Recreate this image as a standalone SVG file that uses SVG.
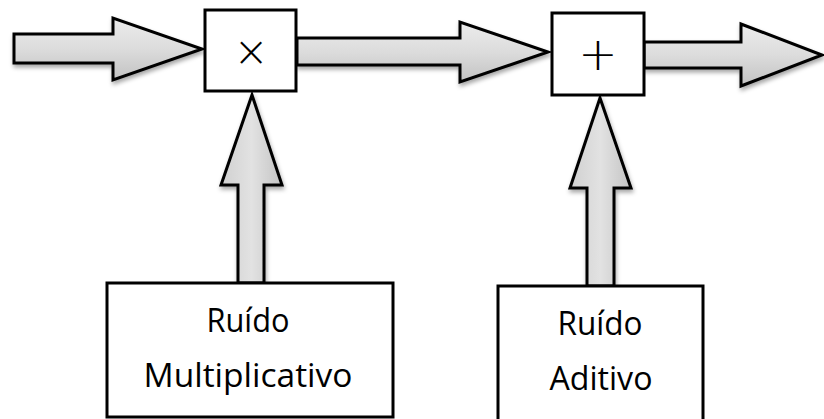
<svg xmlns="http://www.w3.org/2000/svg" width="824" height="419" viewBox="0 0 824 419">
<style>
.box{fill:#fff;stroke:#000;stroke-width:3}
.arr{stroke:#000;stroke-width:3;stroke-linejoin:miter;filter:url(#sh)}
.h{fill:url(#gh)}
.v{fill:url(#gv)}
.lbl{font-family:"Open Sans","Liberation Sans",sans-serif;font-size:33px;fill:#000;text-anchor:middle}
.op{font-family:"DejaVu Sans","Liberation Sans",sans-serif;font-weight:200;fill:#000;text-anchor:middle}
</style>
<defs>
<linearGradient id="gh" x1="0" y1="0" x2="0" y2="1">
<stop offset="0" stop-color="#ececec"/>
<stop offset="0.5" stop-color="#dcdcdc"/>
<stop offset="1" stop-color="#c2c2c2"/>
</linearGradient>
<linearGradient id="gv" x1="0" y1="0" x2="1" y2="0">
<stop offset="0" stop-color="#d0d0d0"/>
<stop offset="0.5" stop-color="#e2e2e2"/>
<stop offset="1" stop-color="#c4c4c4"/>
</linearGradient>
<filter id="sh" x="-20%" y="-20%" width="140%" height="160%">
<feDropShadow dx="1" dy="3" stdDeviation="2" flood-color="#000" flood-opacity="0.35"/>
</filter>
</defs>
<g id="connectors">
<polygon class="arr h" points="14,34 113,34 113,18 202,49 113,80 113,63 14,63"/>
<polygon class="arr h" points="297,38 460,38 460,22 548,52 460,82 460,65 297,65"/>
<polygon class="arr h" points="644,42 741,42 741,24 822,55 741,86 741,68 644,68"/>
<polygon class="arr v" points="238,283 238,185 221,185 252,95 282,185 264,185 264,283"/>
<polygon class="arr v" points="587,286 587,188 570,188 600,98 631,188 614,188 614,286"/>
</g>
<g id="mult">
<rect class="box" x="205" y="10" width="91" height="81"/>
<text class="op" x="251" y="66" font-size="42">×</text>
</g>
<g id="soma">
<rect class="box" x="552" y="13" width="92" height="82"/>
<text class="op" x="598" y="70" font-size="47">+</text>
</g>
<g id="ruido-mult">
<rect class="box" x="107" y="283" width="286" height="134"/>
<text class="lbl" x="248" y="332" textLength="83" lengthAdjust="spacingAndGlyphs">Ruído</text>
<text class="lbl" x="248" y="387" textLength="209" lengthAdjust="spacingAndGlyphs">Multiplicativo</text>
</g>
<g id="ruido-adit">
<rect class="box" x="498" y="286" width="205" height="140"/>
<text class="lbl" x="600" y="335" textLength="85" lengthAdjust="spacingAndGlyphs">Ruído</text>
<text class="lbl" x="601" y="390" textLength="103" lengthAdjust="spacingAndGlyphs">Aditivo</text>
</g>
</svg>
